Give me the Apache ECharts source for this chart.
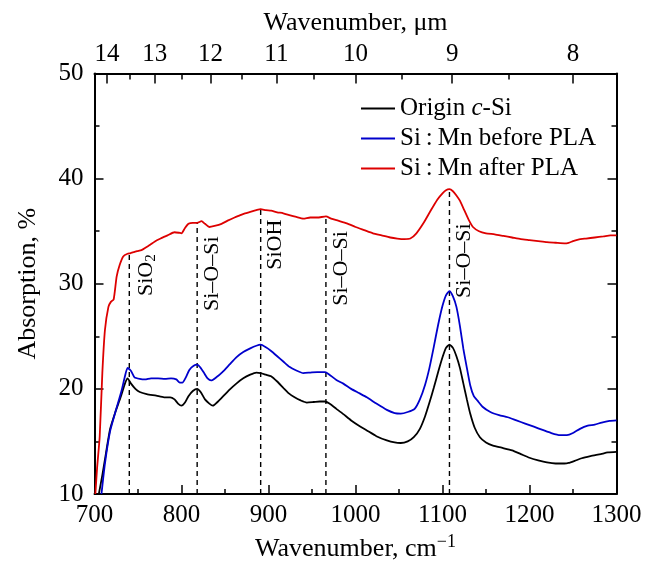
<!DOCTYPE html>
<html>
<head>
<meta charset="utf-8">
<script src="https://cdn.jsdelivr.net/npm/echarts@6/dist/echarts.min.js"></script>
<style>html,body{margin:0;padding:0;background:#fff}#c{width:655px;height:565px}</style>
</head>
<body>
<div id="c"></div>
<script>
// ---- data (wavenumber cm^-1, absorption %) ----
const originSi = [[705,10],[709,11.8],[713,13.8],[718,16.2],[724,17.8],[730,19.2],[735,20.5],[738,21.0],[742,20.5],[747,20.0],[752,19.7],[760,19.5],[771,19.35],[780,19.2],[787,19.2],[792,19.0],[796,18.6],[800,18.4],[804,18.7],[808,19.3],[813,19.8],[818,20.0],[822,19.7],[827,19.0],[832,18.6],[836,18.4],[842,18.8],[848,19.3],[855,19.9],[863,20.5],[871,21.0],[879,21.35],[886,21.55],[891,21.5],[897,21.35],[903,21.2],[910,20.7],[917,20.1],[923,19.6],[930,19.2],[937,18.9],[944,18.7],[952,18.75],[959,18.8],[965,18.8],[970,18.6],[978,18.1],[986,17.6],[995,17.0],[1004,16.5],[1013,16.05],[1024,15.5],[1036,15.1],[1045,14.9],[1052,14.85],[1060,15.0],[1067,15.4],[1074,16.2],[1080,17.4],[1085,18.7],[1090,20.1],[1095,21.6],[1100,23.0],[1104,23.9],[1108,24.2],[1112,23.9],[1116,23.1],[1120,22.0],[1124,20.5],[1128,19.0],[1132,17.6],[1137,16.3],[1143,15.4],[1150,14.9],[1158,14.6],[1168,14.4],[1180,14.15],[1190,13.8],[1200,13.45],[1210,13.2],[1220,13.0],[1230,12.9],[1240,12.9],[1245,12.95],[1252,13.15],[1260,13.4],[1270,13.6],[1282,13.8],[1290,13.95],[1300,14.0]];
const beforePLA = [[708,10],[712,12.9],[718,16.0],[724,17.8],[731,19.8],[735,21.2],[738,22.0],[742,21.7],[746,21.1],[752,20.95],[758,20.9],[765,21.0],[773,21.0],[781,20.95],[788,21.0],[794,20.9],[798,20.6],[801,20.6],[805,21.1],[809,21.8],[814,22.2],[818,22.3],[822,22.0],[826,21.5],[830,21.0],[834,20.8],[840,21.1],[847,21.6],[855,22.3],[863,23.0],[871,23.5],[879,23.85],[886,24.1],[891,24.2],[897,23.95],[903,23.6],[910,23.1],[917,22.6],[924,22.1],[932,21.75],[940,21.5],[948,21.55],[956,21.6],[965,21.6],[970,21.35],[978,20.85],[986,20.5],[995,20.0],[1004,19.6],[1013,19.2],[1024,18.6],[1036,18.0],[1045,17.7],[1052,17.65],[1060,17.8],[1068,18.1],[1074,19.0],[1080,20.4],[1085,22.0],[1090,24.0],[1095,26.1],[1100,27.9],[1104,28.9],[1108,29.3],[1112,28.8],[1116,27.8],[1120,26.0],[1124,23.8],[1128,22.0],[1132,20.3],[1136,19.3],[1140,18.9],[1146,18.3],[1155,17.8],[1165,17.5],[1175,17.3],[1185,17.0],[1195,16.7],[1205,16.4],[1215,16.1],[1225,15.8],[1235,15.6],[1243,15.6],[1250,15.8],[1258,16.2],[1267,16.5],[1275,16.6],[1283,16.8],[1292,16.95],[1300,17.0]];
const afterPLA = [[701,10],[703,12.5],[706,15.5],[709,21.5],[712,25.6],[716,27.8],[719,28.3],[722,28.5],[725.5,30.7],[729,31.8],[733,32.6],[738,32.85],[741,32.9],[745,33.0],[749,33.1],[754,33.2],[760,33.5],[764,33.7],[769,34.0],[776,34.3],[784,34.6],[792,34.9],[797,34.85],[800,34.8],[804,35.3],[808,35.7],[813,35.8],[818,35.8],[823,35.95],[827,35.7],[832,35.4],[838,35.5],[846,35.7],[853,36.0],[861,36.3],[867,36.5],[873,36.7],[880,36.85],[886,37.0],[891,37.1],[897,37.0],[903,36.95],[910,36.8],[917,36.7],[925,36.5],[932,36.35],[940,36.2],[948,36.3],[956,36.3],[966,36.4],[972,36.2],[980,36.0],[990,35.75],[1000,35.4],[1010,35.1],[1020,34.8],[1030,34.6],[1040,34.4],[1048,34.3],[1056,34.25],[1063,34.3],[1070,34.8],[1078,35.75],[1086,36.9],[1094,38.0],[1100,38.6],[1104,38.9],[1108,39.0],[1112,38.8],[1116,38.4],[1120,37.9],[1125,37.0],[1130,36.1],[1135,35.4],[1142,35.0],[1150,34.8],[1160,34.7],[1170,34.55],[1180,34.4],[1190,34.25],[1200,34.15],[1210,34.05],[1220,33.95],[1230,33.9],[1240,33.85],[1245,33.9],[1250,34.05],[1256,34.2],[1265,34.3],[1275,34.4],[1285,34.5],[1293,34.6],[1300,34.6]];
const seriesNames = ['Origin c-Si', 'Si\u2009:\u2009Mn before PLA', 'Si\u2009:\u2009Mn after PLA'];
const seriesColors = ['#000000', '#0000cc', '#dd0000'];

// band markers (dashed lines) and their labels
const bandX = [740, 818, 891, 966, 1108];
const bandTop = [32.9, 35.8, 37.1, 36.4, 39.0];
const bandLabelTop = [32.8, 34.5, 36.1, 35.0, 35.75];
const bandLabels = ['SiO{s|2}', 'Si\u2013O\u2013Si', 'SiOH', 'Si\u2013O\u2013Si', 'Si\u2013O\u2013Si'];

// top axis (micrometres)
const topMajorMicrons = [14, 13, 12, 11, 10, 9, 8];
const topMinorMicrons = [13.5, 12.5, 11.5, 10.5, 9.5, 8.5];

const FONT = '"Liberation Serif", "Times New Roman", serif';
const toCm = um => 10000 / um;

const chart = echarts.init(document.getElementById('c'), null, {renderer: 'canvas'});
const axisLine = {show: true, lineStyle: {color: '#000', width: 2}};
const option = {
  animation: false,
  backgroundColor: '#fff',
  textStyle: {fontFamily: FONT, color: '#000'},
  grid: {left: 94.5, right: 38.5, top: 73.5, bottom: 71, containLabel: false, outerBoundsMode: 'none'},
  legend: {
    orient: 'vertical', left: 356, top: 91, itemWidth: 34, itemHeight: 2, itemGap: 5,
    icon: 'rect',
    data: seriesNames.map((n, i) => ({name: n, itemStyle: {color: seriesColors[i]}})),
    formatter: n => n === seriesNames[0] ? '{n|Origin }{i|c}{n|-Si}' : '{n|' + n + '}',
    textStyle: {
      fontFamily: FONT, fontSize: 25, color: '#000',
      rich: {n: {fontFamily: FONT, fontSize: 25, color: '#000'}, i: {fontFamily: FONT, fontSize: 25, fontStyle: 'italic', color: '#000'}}
    }
  },
  xAxis: [
    {
      type: 'value', min: 700, max: 1300, interval: 100, position: 'bottom',
      name: 'Wavenumber, cm{sup|\u22121}', nameLocation: 'middle', nameGap: 38,
      nameTextStyle: {fontFamily: FONT, fontSize: 26, color: '#000',
        rich: {sup: {fontFamily: FONT, fontSize: 18, color: '#000', padding: [0, 0, 14, 0]}}},
      axisLine, splitLine: {show: false},
      axisTick: {inside: true, length: 9, lineStyle: {color: '#000', width: 1.5}},
      minorTick: {show: true, splitNumber: 2, length: 5, lineStyle: {color: '#000', width: 1.5}},
      axisLabel: {fontFamily: FONT, fontSize: 25, color: '#000', margin: 9, formatter: v => String(v)}
    },
    {
      type: 'value', min: 700, max: 1300, position: 'top',
      name: 'Wavenumber, \u03bcm', nameLocation: 'middle', nameGap: 37,
      nameTextStyle: {fontFamily: FONT, fontSize: 26, color: '#000'},
      axisLine, splitLine: {show: false},
      axisTick: {inside: true, length: 10, customValues: topMajorMicrons.map(toCm), lineStyle: {color: '#000', width: 1.5}},
      axisLabel: {fontFamily: FONT, fontSize: 25, color: '#000', margin: 7,
        customValues: topMajorMicrons.map(toCm), formatter: v => String(Math.round(10000 / v))}
    },
    {
      type: 'value', min: 700, max: 1300, position: 'top',
      axisLine: {show: false}, splitLine: {show: false},
      axisTick: {inside: true, length: 6, customValues: topMinorMicrons.map(toCm), lineStyle: {color: '#000', width: 1.5}},
      axisLabel: {show: false}
    }
  ],
  yAxis: [
    {
      type: 'value', min: 10, max: 50, interval: 10, position: 'left',
      name: 'Absorption, %', nameLocation: 'middle', nameGap: 53,
      nameTextStyle: {fontFamily: FONT, fontSize: 26, color: '#000'},
      axisLine, splitLine: {show: false},
      axisTick: {inside: true, length: 9, lineStyle: {color: '#000', width: 1.5}},
      minorTick: {show: true, splitNumber: 2, length: 5, lineStyle: {color: '#000', width: 1.5}},
      axisLabel: {fontFamily: FONT, fontSize: 25, color: '#000', margin: 11}
    },
    {
      type: 'value', min: 10, max: 50, interval: 10, position: 'right',
      axisLine, splitLine: {show: false},
      axisTick: {inside: true, length: 9, lineStyle: {color: '#000', width: 1.5}},
      minorTick: {show: true, splitNumber: 2, length: 5, lineStyle: {color: '#000', width: 1.5}},
      axisLabel: {show: false}
    }
  ],
  series: [
    {
      type: 'custom', name: 'bands', xAxisIndex: 0, yAxisIndex: 0, silent: true, z: 1,
      data: bandX.map((x, i) => [x, bandTop[i], bandLabelTop[i]]),
      renderItem: (params, api) => {
        const x = api.value(0), top = api.value(1), lt = api.value(2);
        const p0 = api.coord([x, 10]);
        const p1 = api.coord([x, top]);
        const pl = api.coord([x, lt]);
        return {
          type: 'group',
          children: [
            {type: 'line', shape: {x1: p0[0], y1: p0[1], x2: p1[0], y2: p1[1]},
             style: {stroke: '#000', lineWidth: 1.4, lineDash: [5, 4]}},
            {type: 'text', x: pl[0] + 4, y: pl[1], rotation: Math.PI / 2,
             style: {text: bandLabels[params.dataIndex], fontFamily: FONT, fontSize: 22, fill: '#000',
               align: 'right', verticalAlign: 'top',
               rich: {s: {fontFamily: FONT, fontSize: 15, fill: '#000', padding: [10, 0, 0, 0]}}}}
          ]
        };
      }
    },
    ...[originSi, beforePLA, afterPLA].map((d, i) => ({
      type: 'line', name: seriesNames[i], data: d, xAxisIndex: 0, yAxisIndex: 0,
      showSymbol: false, smooth: 0.2, z: 3,
      lineStyle: {color: seriesColors[i], width: 1.8}, itemStyle: {color: seriesColors[i]}
    }))
  ]
};
chart.setOption(option);
</script>
</body>
</html>
